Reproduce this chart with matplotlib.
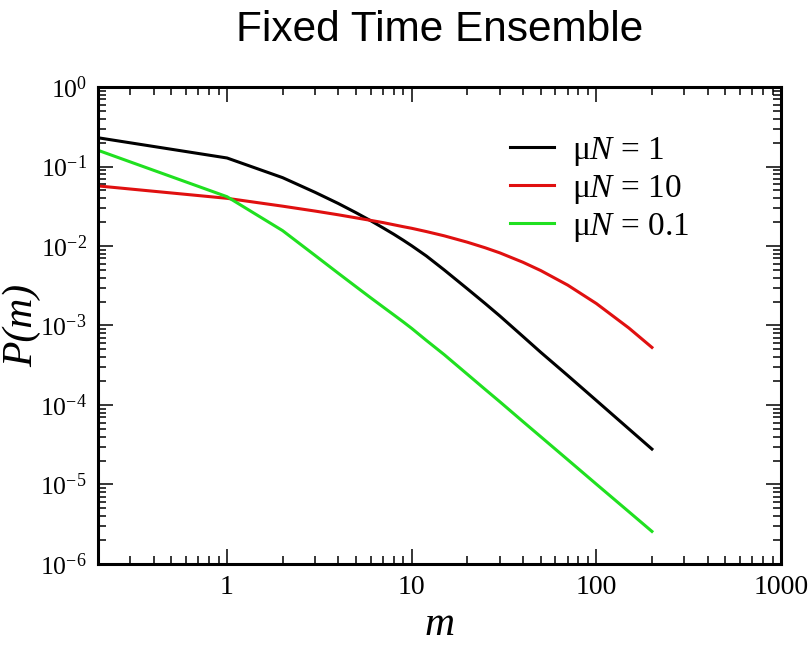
import matplotlib
matplotlib.use("Agg")
import matplotlib.pyplot as plt
from matplotlib.ticker import LogLocator, FixedLocator, FixedFormatter, NullFormatter

plt.rcParams['font.family'] = ['Liberation Serif', 'DejaVu Serif']
plt.rcParams['mathtext.fontset'] = 'custom'
plt.rcParams['mathtext.rm'] = 'Liberation Serif'
plt.rcParams['mathtext.it'] = 'Liberation Serif:italic'

# values
m = [0.2, 1, 2, 3, 4, 5, 6, 7, 8, 9, 10, 12, 15, 20, 25, 30, 40, 50, 70, 100, 150, 200]
p_mu1 = [0.23, 0.128, 0.0724, 0.0473, 0.0343, 0.0262, 0.0208, 0.0169, 0.01406, 0.01183,
         0.01007, 0.0075, 0.0050, 0.0029, 0.00189, 0.00132, 7.3e-4, 4.6e-4, 2.35e-4,
         1.14e-4, 5.0e-5, 2.79e-5]
p_mu10 = [0.057, 0.0398, 0.0317, 0.0275, 0.0247, 0.0226, 0.0210, 0.0197, 0.0185, 0.0175,
          0.0167, 0.0152, 0.01343, 0.01117, 0.0095, 0.0082, 0.00625, 0.00491, 0.00322,
          0.00189, 9.3e-4, 5.3e-4]
p_mu01 = [0.16, 0.0417, 0.0156, 0.0076, 0.00455, 0.00307, 0.00223, 0.00171, 0.00136, 0.00111,
          9.2e-4, 6.5e-4, 4.3e-4, 2.44e-4, 1.57e-4, 1.10e-4, 6.2e-5, 3.99e-5, 2.05e-5,
          1.01e-5, 4.54e-6, 2.57e-6]

series_labels = ["μ$N$ = 1", "μ$N$ = 10", "μ$N$ = 0.1"]
colors = ['black', '#e01010', '#20e020']
xtick_vals = [1, 10, 100, 1000]
xtick_labels = ["1", "10", "100", "1000"]

fig = plt.figure(figsize=(8.11, 6.45), dpi=100)
ax = fig.add_axes([0.1208, 0.1256, 0.8422, 0.7395])

for ys, lab, c in zip([p_mu1, p_mu10, p_mu01], series_labels, colors):
    ax.plot(m, ys, color=c, lw=2.2, label=lab)

ax.set_xscale('log')
ax.set_yscale('log')
ax.set_xlim(0.2, 1000)
ax.set_ylim(1e-6, 1)

ax.xaxis.set_major_locator(FixedLocator(xtick_vals))
ax.xaxis.set_major_formatter(FixedFormatter(xtick_labels))
ax.xaxis.set_minor_locator(LogLocator(base=10, subs=range(2, 10)))
ax.xaxis.set_minor_formatter(NullFormatter())
ax.yaxis.set_minor_locator(LogLocator(base=10, subs=range(2, 10)))
ax.yaxis.set_minor_formatter(NullFormatter())

ax.tick_params(which='both', direction='in', top=True, right=True, width=1.1)
ax.tick_params(axis='x', labelsize=20)
ax.tick_params(axis='y', labelsize=18.5)
ax.tick_params(which='major', length=10.8, pad=8)
ax.tick_params(which='minor', length=5.5)
for s in ax.spines.values():
    s.set_linewidth(2.2)

ax.set_xlabel("m", style='italic', fontsize=30, labelpad=4)
ax.set_ylabel("P(m)", style='italic', fontsize=30)
ax.yaxis.set_label_coords(-0.083, 0.5)
ax.set_title("Fixed Time Ensemble", family='Liberation Sans', fontsize=30.5, pad=33)

ax.legend(loc='upper left', bbox_to_anchor=(0.603, 0.90), frameon=False, fontsize=24,
          handlelength=1.32, handletextpad=0.55, labelspacing=0.15,
          borderpad=0, borderaxespad=0)

fig.savefig("out.png", dpi=100)
